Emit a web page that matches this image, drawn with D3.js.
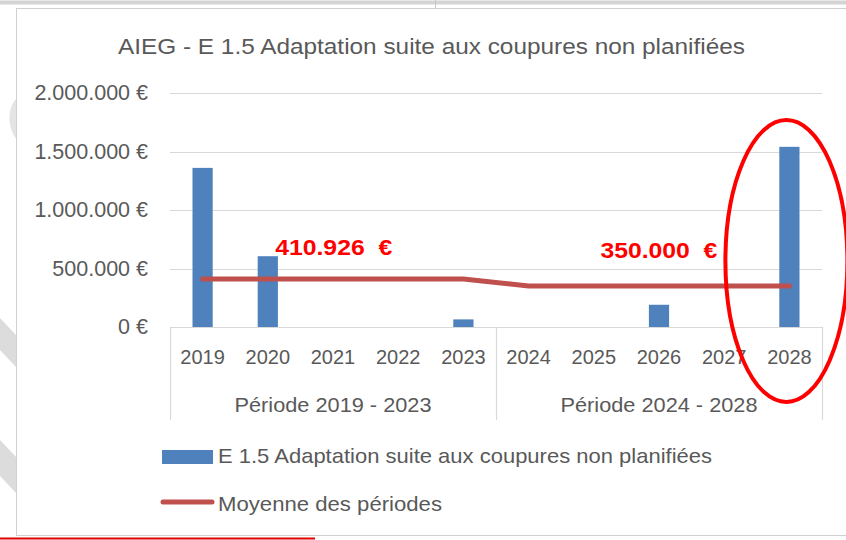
<!DOCTYPE html>
<html>
  <head>
    <meta charset="utf-8">
    <title>AIEG - E 1.5</title>
    <script type="text/javascript" src="https://cdnjs.cloudflare.com/ajax/libs/d3/7.8.5/d3.min.js"></script>
    <style>
      body { margin: 0; background: #fff; }
      text { font-family: 'Liberation Sans', Arial, sans-serif; fill: #595959; }
    </style>
  </head>
  <body>
  <script>

    var years = ['2019', '2020', '2021', '2022', '2023', '2024', '2025', '2026', '2027', '2028'];
    var periods = ['Période 2019 - 2023', 'Période 2024 - 2028'];
    var costs = [1360000, 605000, 0, 0, 65000, 0, 0, 190000, 0, 1540000];
    var averages = [410926, 410926, 410926, 410926, 410926, 350000, 350000, 350000, 350000, 350000];
    var avgLabels = ['410.926  €', '350.000  €'];
    var yTicks = [0, 500000, 1000000, 1500000, 2000000];
    var yTickLabels = ['0 €', '500.000 €', '1.000.000 €', '1.500.000 €', '2.000.000 €'];

    var W = 846, H = 540;
    var svg = d3.select('body')
              .append('svg')
              .attr('width', W)
              .attr('height', H);

    // squeeze/stretch a text to a given width (the original font is narrower)
    function fit(sel, w) {
      sel.attr('textLength', w).attr('lengthAdjust', 'spacingAndGlyphs');
    }

    // page bits around the chart
    svg.append('line').attr('x1', 0).attr('x2', W).attr('y1', 2.5).attr('y2', 2.5)
      .attr('stroke', '#d4d4d4').attr('stroke-width', 4);
    svg.append('line').attr('x1', 435.5).attr('x2', 435.5).attr('y1', 0).attr('y2', 8)
      .attr('stroke', '#c8c8c8');
    // faint diagonal watermark on the left edge
    svg.append('path').attr('d', 'M0,318 L17,336 L17,368 L0,350 Z').attr('fill', '#dcdcdc');
    svg.append('path').attr('d', 'M0,440 L17,458 L17,494 L0,476 Z').attr('fill', '#dcdcdc');
    svg.append('path').attr('d', 'M17,98 C8,106 6,126 17,140 Z').attr('fill', '#e4e4e4');
    // chart frame
    svg.append('rect').attr('x', 16.5).attr('y', 8.5).attr('width', 840).attr('height', 527)
      .attr('fill', '#fff').attr('stroke', '#d0d0d0');
    svg.append('line').attr('x1', 0).attr('x2', 315).attr('y1', 538.5).attr('y2', 538.5)
      .attr('stroke', '#e00000').attr('stroke-width', 2);

    var x = d3.scaleBand()
      .domain(years)
      .range([170, 822]);

    var y = d3.scaleLinear()
      .domain([0, 2000000])
      .range([327, 93]);

    // title
    svg.append('text')
      .attr('x', 118).attr('y', 54)
      .style('font-size', '22px')
      .text('AIEG - E 1.5 Adaptation suite aux coupures non planifiées')
      .call(fit, 627);

    // gridlines
    svg.selectAll('.grid')
      .data(yTicks)
      .enter().append('line')
      .attr('x1', 170).attr('x2', 822)
      .attr('y1', function(d) { return Math.round(y(d)) + 0.5; })
      .attr('y2', function(d) { return Math.round(y(d)) + 0.5; })
      .attr('stroke', '#d9d9d9').attr('stroke-width', 1.2);

    // y labels
    svg.selectAll('.ylab')
      .data(yTicks)
      .enter().append('text')
      .attr('x', 148)
      .attr('y', function(d) { return y(d) + 7; })
      .attr('text-anchor', 'end')
      .style('font-size', '21.5px')
      .text(function(d, i) { return yTickLabels[i]; });

    // bars
    var bw = x.bandwidth() * 0.31;
    svg.selectAll('.bar')
      .data(costs)
      .enter().append('rect')
      .attr('x', function(d, i) { return x(years[i]) + x.bandwidth() / 2 - bw / 2; })
      .attr('y', function(d) { return y(d); })
      .attr('width', bw)
      .attr('height', function(d) { return y(0) - y(d); })
      .attr('fill', '#4f81bd');

    // average line
    var line = d3.line()
      .x(function(d, i) { return x(years[i]) + x.bandwidth() / 2; })
      .y(function(d) { return y(d); });
    svg.append('path')
      .datum(averages)
      .attr('d', line)
      .attr('fill', 'none')
      .attr('stroke', '#c0504d')
      .attr('stroke-width', 5)
      .attr('stroke-linecap', 'round');

    // average labels
    var labelAt = [1, 7];
    var labelDx = [40, -26];
    var labelDy = [-24, -28];
    svg.selectAll('.avglab')
      .data(avgLabels)
      .enter().append('text')
      .attr('x', function(d, i) { return x(years[labelAt[i]]) + labelDx[i]; })
      .attr('y', function(d, i) { return y(averages[labelAt[i]]) + labelDy[i]; })
      .style('font-size', '22px')
      .style('font-weight', 'bold')
      .style('fill', '#ff0000')
      .style('white-space', 'pre')
      .text(function(d) { return d; })
      .call(fit, 117);

    // category axis
    var x0 = 170, x1 = 822;
    svg.append('line').attr('x1', x0).attr('x2', x1).attr('y1', 327.5).attr('y2', 327.5)
      .attr('stroke', '#d9d9d9').attr('stroke-width', 1.2);
    var bounds = [x0, x(years[5]), x1];
    svg.selectAll('.div')
      .data(bounds)
      .enter().append('line')
      .attr('x1', function(d) { return Math.round(d) + 0.5; })
      .attr('x2', function(d) { return Math.round(d) + 0.5; })
      .attr('y1', 327).attr('y2', 420)
      .attr('stroke', '#d9d9d9').attr('stroke-width', 1.2);

    svg.selectAll('.xlab')
      .data(years)
      .enter().append('text')
      .attr('x', function(d) { return x(d) + x.bandwidth() / 2; })
      .attr('y', 364)
      .attr('text-anchor', 'middle')
      .style('font-size', '20px')
      .text(function(d) { return d; });

    svg.selectAll('.plab')
      .data(periods)
      .enter().append('text')
      .attr('x', function(d, i) { return (bounds[i] + bounds[i + 1]) / 2; })
      .attr('y', 412)
      .attr('text-anchor', 'middle')
      .style('font-size', '21px')
      .text(function(d) { return d; })
      .call(fit, 197);

    // legend
    svg.append('rect').attr('x', 162).attr('y', 450).attr('width', 51).attr('height', 14)
      .attr('fill', '#4f81bd');
    svg.append('text').attr('x', 218).attr('y', 463)
      .style('font-size', '21px')
      .text('E 1.5 Adaptation suite aux coupures non planifiées')
      .call(fit, 494);
    svg.append('line').attr('x1', 163).attr('x2', 212).attr('y1', 502).attr('y2', 502)
      .attr('stroke', '#c0504d').attr('stroke-width', 5).attr('stroke-linecap', 'round');
    svg.append('text').attr('x', 218).attr('y', 511)
      .style('font-size', '21px')
      .text('Moyenne des périodes')
      .call(fit, 224);

    // highlight ellipse round 2028
    svg.append('ellipse')
      .attr('cx', x('2028') + x.bandwidth() / 2 - 3)
      .attr('cy', 261)
      .attr('rx', 61).attr('ry', 141)
      .attr('fill', 'none')
      .attr('stroke', '#ff0000')
      .attr('stroke-width', 4);

  </script>
 </body>
</html>
